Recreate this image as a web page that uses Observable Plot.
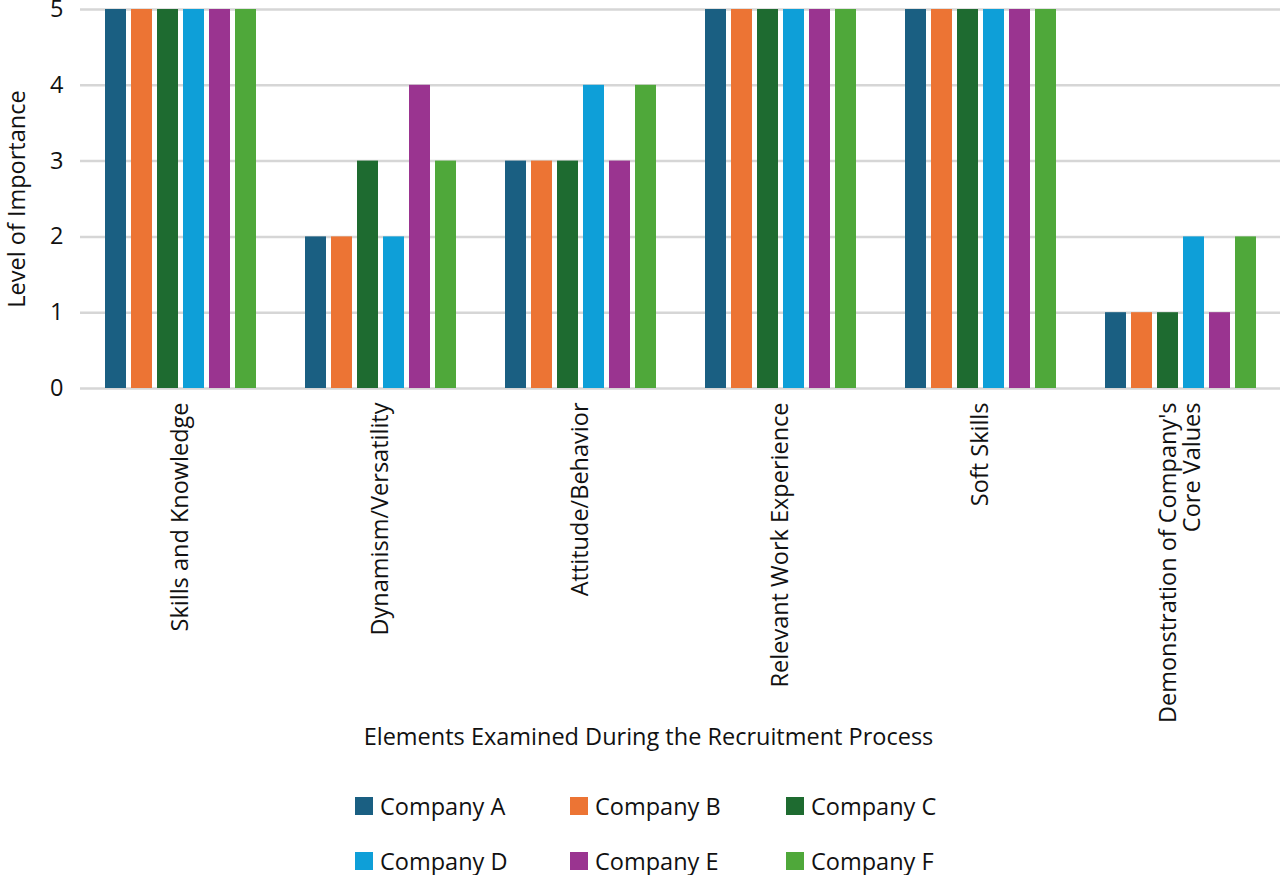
<!DOCTYPE html>
<html>
<head>
<meta charset="utf-8">
<script src="https://cdn.jsdelivr.net/npm/d3@7"></script>
<script src="https://cdn.jsdelivr.net/npm/@observablehq/plot@0.6"></script>
<style>
  body { margin: 0; background: #fff; font-family: "Open Sans", sans-serif; }
  #chart { width: 1280px; }
  #legend { position: relative; width: 1280px; height: 100px; }
  .item { position: absolute; display: flex; align-items: center; font-size: 23.5px; color: #111; white-space: nowrap; }
  .sw { width: 18px; height: 18px; margin-right: 7px; }
</style>
</head>
<body>
<div id="chart"></div>
<div id="legend"></div>
<script>
const categories = [
  "Skills and Knowledge",
  "Dynamism/Versatility",
  "Attitude/Behavior",
  "Relevant Work Experience",
  "Soft Skills",
  "Demonstration of Company's\nCore Values"
];
const companies = ["Company A", "Company B", "Company C", "Company D", "Company E", "Company F"];
const colors = ["#1a5f82", "#ec7434", "#1e6b30", "#0e9fd8", "#9a3490", "#4fa83a"];
const companyA = [5, 2, 3, 5, 5, 1];
const companyB = [5, 2, 3, 5, 5, 1];
const companyC = [5, 3, 3, 5, 5, 1];
const companyD = [5, 2, 4, 5, 5, 2];
const companyE = [5, 4, 3, 5, 5, 1];
const companyF = [5, 3, 4, 5, 5, 2];
const yTicks = [0, 1, 2, 3, 4, 5];
const xTitle = "Elements Examined During the Recruitment Process";
const yTitle = "Level of Importance";

const series = [companyA, companyB, companyC, companyD, companyE, companyF];
const data = [];
categories.forEach((c, i) => {
  companies.forEach((co, j) => data.push({category: c, company: co, value: series[j][i]}));
});

const FS = 23.5;
const chart = Plot.plot({
  width: 1280,
  height: 775,
  marginLeft: 80,
  marginRight: 0,
  marginTop: 9,
  marginBottom: 387,
  style: {fontFamily: "Open Sans, sans-serif", fontSize: FS + "px", color: "#111"},
  fx: {domain: categories, padding: 0},
  x: {domain: companies, paddingInner: 0.2, paddingOuter: 0.87, axis: null},
  y: {domain: [0, 5]},
  color: {domain: companies, range: colors},
  marks: [
    Plot.gridY(yTicks, {stroke: "#d6d6d6", strokeOpacity: 1, strokeWidth: 2.5}),
    Plot.barY(data, {fx: "category", x: "company", y: "value", fill: "company"}),
    Plot.axisY({ticks: yTicks, tickFormat: "d", tickSize: 0, tickPadding: 17, fontSize: FS, label: yTitle, labelAnchor: "center", labelArrow: "none", labelOffset: 72}),
    Plot.axisFx({anchor: "bottom", tickRotate: -90, tickSize: 0, tickPadding: 14, fontSize: FS, label: null}),
    Plot.text([{category: categories[2], t: xTitle}], {fx: "category", text: "t", frameAnchor: "bottom", dy: 356, dx: 68, fontSize: FS, fill: "#111"})
  ]
});
document.getElementById("chart").appendChild(chart);

const legend = document.getElementById("legend");
const colX = [355, 570, 786];
const rowY = [31, 86];
companies.forEach((co, i) => {
  const it = document.createElement("div");
  it.className = "item";
  it.style.left = colX[i % 3] + "px";
  it.style.top = (rowY[Math.floor(i / 3)] - 16) + "px";
  it.innerHTML = `<span class="sw" style="background:${colors[i]}"></span><span>${co}</span>`;
  legend.appendChild(it);
});
</script>
</body>
</html>
